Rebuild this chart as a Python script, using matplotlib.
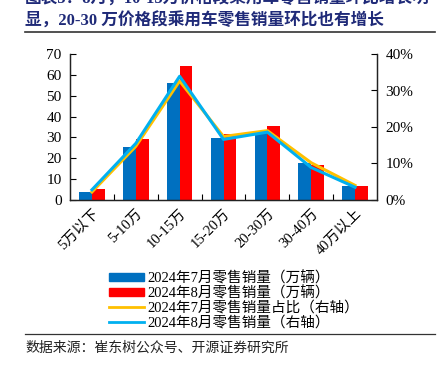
import matplotlib.pyplot as plt
import numpy as np
from matplotlib.patches import Patch
from matplotlib.lines import Line2D

plt.rcParams['font.family'] = ['Liberation Serif', 'Noto Sans CJK SC', 'DejaVu Sans']

categories = ["5万以下", "5-10万", "10-15万", "15-20万", "20-30万", "30-40万", "40万以上"]
jul_sales = [3.7, 25.3, 55.9, 29.9, 32.4, 17.6, 6.9]
aug_sales = [5.4, 29.4, 64.4, 31.5, 35.5, 16.8, 6.7]
jul_share = [2.2, 14.7, 32.6, 17.4, 19.0, 10.2, 4.0]
aug_share = [2.8, 15.5, 33.9, 16.6, 18.6, 8.9, 3.5]

labels = ["2024年7月零售销量（万辆）", "2024年8月零售销量（万辆）",
          "2024年7月零售销量占比（右轴）", "2024年8月零售销量（右轴）"]

BLUE = "#0070C0"
RED = "#FF0000"
YELLOW = "#FFC000"
CYAN = "#00B0F0"
NAVY = "#1F2A78"

W, H = 440, 371
fig = plt.figure(figsize=(W / 100, H / 100), dpi=100)
ax = fig.add_axes([70 / W, 1 - 200 / H, 307 / W, 146 / H])
ax2 = ax.twinx()

x = np.arange(len(categories))
bw = 0.29
ax.bar(x - bw / 2, jul_sales, bw, color=BLUE)
ax.bar(x + bw / 2, aug_sales, bw, color=RED)
ax2.plot(x, jul_share, color=YELLOW, lw=2.2)
ax2.plot(x, aug_share, color=CYAN, lw=2.2)

ax.set_xlim(-0.5, len(categories) - 0.5)
ax.set_ylim(0, 70)
ax.set_yticks(range(0, 71, 10))
ax2.set_ylim(0, 40)
ax2.set_yticks(range(0, 41, 10))
ax2.set_yticklabels([f"{v}%" for v in range(0, 41, 10)])

# boundary ticks between groups, labels sit on group centres
ax.set_xticks(np.arange(0.5, len(categories) - 1, 1.0))
ax.set_xticklabels([])
ax.set_xticks(x, minor=True)
ax.set_xticklabels(categories, minor=True, rotation=45, ha='right',
                   rotation_mode='anchor', fontsize=10.5)
ax.tick_params(axis='x', which='minor', length=0, pad=5)
ax.tick_params(axis='x', which='major', direction='in', length=4)
ax.tick_params(axis='y', direction='in', length=4, labelsize=11, pad=6)
ax2.tick_params(axis='y', direction='in', length=4, labelsize=11, pad=6)

for a in (ax, ax2):
    a.spines['top'].set_visible(False)
    for s in ('left', 'right', 'bottom'):
        a.spines[s].set_color('#222222')
        a.spines[s].set_linewidth(0.9)

handles = [Patch(color=BLUE), Patch(color=RED),
           Line2D([], [], color=YELLOW, lw=2), Line2D([], [], color=CYAN, lw=2)]
fig.legend(handles, labels, loc='upper left', bbox_to_anchor=(106 / W, 1 - 268 / H),
           frameon=False, fontsize=10.5, handlelength=2.4, handleheight=0.45,
           handletextpad=0.25, labelspacing=0.05, borderaxespad=0, borderpad=0.2)

fig.text(25 / W, 1 + 1 / H, "图表5：8月，10-15万价格段乘用车零售销量环比增长明",
         fontsize=12, fontweight='bold', color=NAVY, va='center', ha='left')
fig.text(25 / W, 1 - 21 / H, "显，20-30 万价格段乘用车零售销量环比也有增长",
         fontsize=12, fontweight='bold', color=NAVY, va='center', ha='left')
fig.add_artist(Line2D([25 / W, 435 / W], [1 - 32 / H, 1 - 32 / H], color='#333333', lw=1.2))
fig.add_artist(Line2D([25 / W, 435 / W], [1 - 334 / H, 1 - 334 / H], color='#333333', lw=0.9))
fig.text(25 / W, 1 - 348 / H, "数据来源：崔东树公众号、开源证券研究所",
         fontsize=10, color='#222222', va='center', ha='left')

fig.savefig("out.png", dpi=100)
